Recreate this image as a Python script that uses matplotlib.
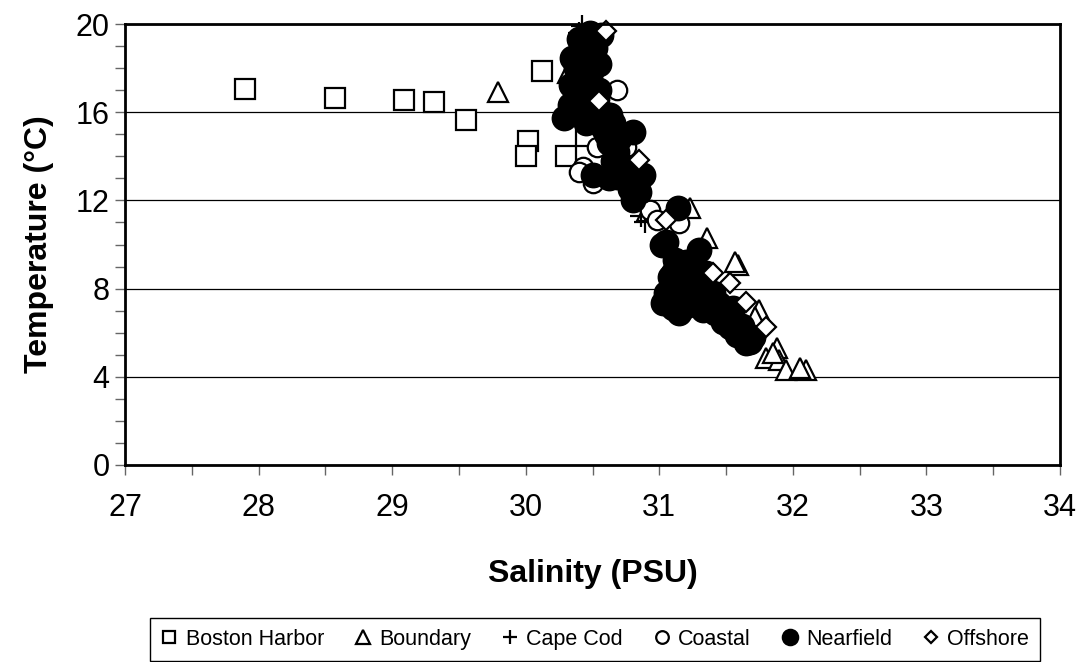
import matplotlib
matplotlib.use('Agg')
import matplotlib.pyplot as plt
from matplotlib.ticker import MultipleLocator

plt.rcParams['font.family'] = ['Liberation Sans', 'DejaVu Sans']

# Boston Harbor
bh_s = [27.90, 28.57, 29.09, 29.31, 29.55, 30.12, 30.02, 30.00, 30.30, 30.45]
bh_t = [17.05, 16.63, 16.55, 16.48, 15.65, 17.88, 14.69, 14.03, 14.03, 14.9]

# Boundary
bd_s = [29.79, 30.32, 30.50, 31.23, 31.36, 31.59, 31.57, 31.75, 31.72, 31.88,
        31.80, 31.90, 31.95, 32.10, 32.05, 31.85, 31.68, 30.91]
bd_t = [16.93, 17.78, 19.6, 11.65, 10.3, 9.07, 9.2, 7.03, 6.7, 5.3,
        4.85, 4.76, 4.3, 4.3, 4.4, 5.1, 6.1, 11.5]

# Cape Cod
cc_s = [30.42, 30.40, 30.89, 30.86]
cc_t = [19.9, 19.6, 11.03, 11.3]

# Coastal
co_s = [30.68, 30.43, 30.50, 30.53, 30.75, 30.93, 30.98, 31.15, 30.40, 30.60, 30.45]
co_t = [17.0, 13.5, 12.8, 14.43, 14.43, 11.56, 11.1, 10.97, 13.3, 16.0, 17.5]

# Nearfield
nf_s = [30.48, 30.56, 30.45, 30.52, 30.35, 30.49, 30.55, 30.34, 30.48, 30.40,
        30.55, 30.33, 30.53, 30.45, 30.29, 30.46, 30.63, 30.58, 30.65, 30.80,
        30.68, 30.62, 30.72, 30.50, 30.68, 30.88, 30.80, 30.85, 31.14, 31.05,
        31.02, 31.30, 31.10, 31.35, 31.20, 31.08, 31.05, 31.03, 31.15, 31.25,
        31.33, 31.40, 31.28, 31.45, 31.53, 31.60, 31.65, 31.50, 31.70,
        30.40, 30.50, 30.38, 30.50, 30.42, 30.38, 30.50, 30.36, 30.55, 30.45,
        30.60, 30.70, 30.65, 30.75, 30.62, 30.78, 31.12, 31.18, 31.22, 31.12,
        31.20, 31.10, 31.38, 31.30, 31.25, 31.42, 31.48, 31.55, 31.58, 31.62,
        31.68, 31.55]
nf_t = [19.58, 19.5, 19.0, 18.9, 18.46, 18.6, 18.2, 17.23, 17.55, 17.0,
        17.0, 16.33, 16.64, 16.3, 15.74, 15.87, 15.87, 15.28, 15.5, 15.12,
        14.2, 14.6, 13.6, 13.15, 13.07, 13.15, 12.02, 12.4, 11.65, 10.13,
        10.0, 9.75, 8.7, 8.7, 9.2, 8.54, 7.8, 7.34, 6.9, 7.5,
        7.03, 7.8, 8.4, 7.3, 6.27, 6.0, 5.52, 6.8, 5.8,
        19.3, 19.2, 18.0, 18.0, 17.6, 16.8, 16.0, 16.0, 15.6, 15.5,
        15.0, 14.8, 13.8, 13.3, 13.0, 12.5, 9.3, 8.9, 8.3, 8.0,
        7.2, 7.1, 7.4, 7.7, 8.8, 6.9, 6.5, 6.6, 5.9, 6.3,
        5.6, 7.1]

# Offshore
of_s = [30.60, 30.85, 31.05, 31.53, 31.65, 31.80, 30.55, 31.40]
of_t = [19.7, 13.83, 11.1, 8.24, 7.4, 6.27, 16.5, 8.7]

fig = plt.figure(figsize=(10.86, 6.62), dpi=100)
ax = fig.add_axes([125/1086, 1-465/662, (1060-125)/1086, (465-24)/662])

kw = dict(linestyle='none', markeredgecolor='black', markeredgewidth=1.6, clip_on=False)
ax.plot(bh_s, bh_t, marker='s', markersize=14, markerfacecolor='white', label='Boston Harbor', **kw)
ax.plot(bd_s, bd_t, marker='^', markersize=15, markerfacecolor='white', label='Boundary', **kw)
ax.plot(cc_s, cc_t, marker='+', markersize=16, color='black', label='Cape Cod', **kw)
ax.plot(co_s, co_t, marker='o', markersize=14, markerfacecolor='white', label='Coastal', **kw)
ax.plot(nf_s, nf_t, marker='o', markersize=17, markerfacecolor='black', label='Nearfield', **kw)
ax.plot(of_s, of_t, marker='D', markersize=10, markerfacecolor='white', label='Offshore', **kw)

ax.set_xlim(27, 34)
ax.set_ylim(0, 20)
ax.xaxis.set_major_locator(MultipleLocator(1))
ax.xaxis.set_minor_locator(MultipleLocator(0.5))
ax.yaxis.set_major_locator(MultipleLocator(4))
ax.yaxis.set_minor_locator(MultipleLocator(1))
ax.tick_params(which='both', direction='out', length=7, width=1, color='#666666', labelsize=22)
ax.tick_params(axis='x', pad=13)
ax.tick_params(axis='y', pad=4)
ax.grid(axis='y', which='major', color='black', linewidth=0.9)
ax.set_axisbelow(True)
for sp in ax.spines.values():
    sp.set_linewidth(2)

ax.set_xlabel('Salinity (PSU)', fontsize=23, fontweight='bold', labelpad=26)
ax.set_ylabel('Temperature (°C)', fontsize=23, fontweight='bold', labelpad=16)

leg = fig.legend(loc='upper left', bbox_to_anchor=(150/1086, -0.2, (1040-150)/1086, 0.2 + 1-618/662),
                 mode='expand', ncol=6, fontsize=15.5, markerscale=0.65, handlelength=0.8,
                 handletextpad=0.35, columnspacing=0.85, borderaxespad=0, fancybox=False,
                 edgecolor='black', framealpha=1, borderpad=0.5)
leg.get_frame().set_linewidth(1)

fig.savefig('out.png', dpi=100)
